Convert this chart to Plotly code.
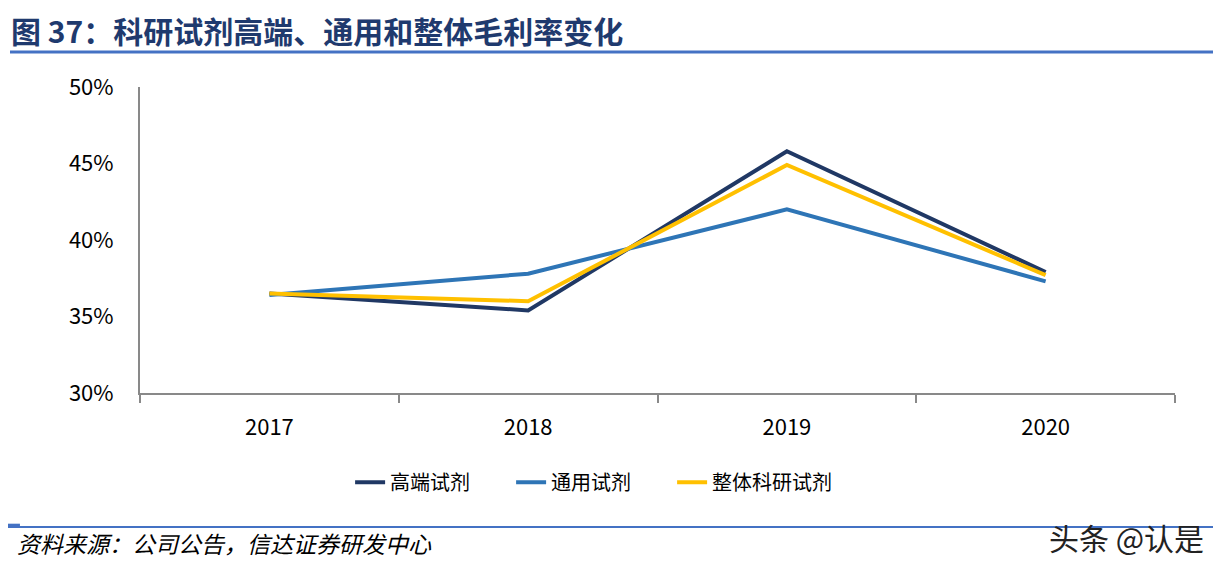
import plotly.graph_objects as go

# data
years = ["2017", "2018", "2019", "2020"]
high_end = [0.365, 0.354, 0.458, 0.379]
general = [0.364, 0.378, 0.420, 0.373]
overall = [0.365, 0.360, 0.449, 0.377]

series_names = ["高端试剂", "通用试剂", "整体科研试剂"]
series_colors = ["#203864", "#2E75B6", "#FFC000"]

FONT = "Noto Sans CJK SC"

fig = go.Figure()
for name, vals, color in zip(series_names, [high_end, general, overall], series_colors):
    fig.add_trace(go.Scatter(
        x=years, y=vals, name=name, mode="lines",
        line=dict(color=color, width=4),
    ))

# page body has an 8px margin, so the figure is a bit smaller than the window
fig.update_layout(
    width=1213, height=563,
    margin=dict(l=132, r=46, t=79, b=178),
    plot_bgcolor="white", paper_bgcolor="white",
    font=dict(family=FONT, size=22, color="#000000"),
    showlegend=True,
    legend=dict(
        orientation="h", x=0.203, y=-0.292, xanchor="left", yanchor="middle",
        font=dict(size=20), entrywidth=116, entrywidthmode="pixels",
        tracegroupgap=0,
    ),
)

fig.update_xaxes(
    type="category", showgrid=False, zeroline=False,
    showline=True, linecolor="#898989", linewidth=2,
    ticks="outside", ticklen=8, tickcolor="#898989", tickwidth=2,
    tickson="boundaries", ticklabelstandoff=14,
    range=[-0.5, 3.5],
)
fig.update_yaxes(
    range=[0.30, 0.50], dtick=0.05, tickformat=".0%",
    showgrid=False, zeroline=False,
    showline=True, linecolor="#898989", linewidth=2,
    ticks="", ticklabelstandoff=20,
)

# title, rules, source and watermark
fig.add_annotation(
    text="<b>图 37：科研试剂高端、通用和整体毛利率变化</b>",
    xref="paper", yref="paper", x=-0.127, y=1.186, xanchor="left", yanchor="middle",
    showarrow=False, font=dict(family=FONT, size=30, color="#1F3A6E"),
)
fig.add_shape(type="line", xref="paper", yref="paper",
              x0=-0.1256, x1=1.05, y0=1.114, y1=1.114,
              line=dict(color="#4472C4", width=3))
fig.add_shape(type="line", xref="paper", yref="paper",
              x0=-0.131, x1=1.05, y0=-0.438, y1=-0.438,
              line=dict(color="#4472C4", width=2))
fig.add_shape(type="line", xref="paper", yref="paper",
              x0=-0.131, x1=-0.116, y0=-0.432, y1=-0.432,
              line=dict(color="#4472C4", width=3))
fig.add_annotation(
    text="<i>资料来源：公司公告，信达证券研发中心</i>",
    xref="paper", yref="paper", x=-0.121, y=-0.49, xanchor="left", yanchor="middle",
    showarrow=False, font=dict(family=FONT, size=23, color="#000000"),
)
fig.add_annotation(
    text="头条 @认是",
    xref="paper", yref="paper", x=1.03, y=-0.47, xanchor="right", yanchor="middle",
    showarrow=False, font=dict(family=FONT, size=30, color="#222222"),
)

fig.write_html("out.html")
